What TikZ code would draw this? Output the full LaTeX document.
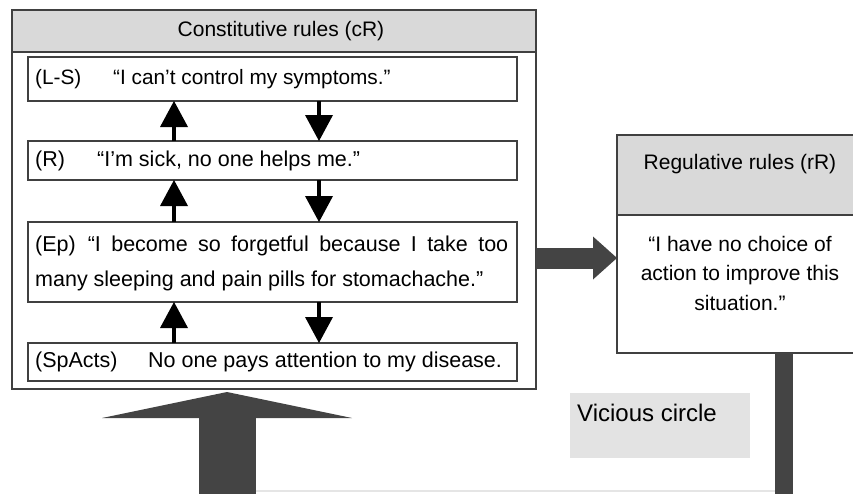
\documentclass[tikz,border=0pt]{standalone}
\usepackage{fontspec}
\setmainfont{Liberation Sans}
\usetikzlibrary{arrows.meta,calc}
\definecolor{hdr}{HTML}{D9D9D9}
\definecolor{dark}{HTML}{444444}
\definecolor{vc}{HTML}{E3E3E3}
\definecolor{edge}{HTML}{404040}
\begin{document}
\begin{tikzpicture}[x=1pt,y=-1pt,
  box/.style={draw=edge, line width=1.3pt, anchor=north west, inner sep=0pt, outer sep=0pt},
  txt/.style={font=\fontsize{21.5}{25}\selectfont, anchor=west, inner sep=0pt},
  smallarr/.style={line width=4pt, -{Triangle[width=28pt,length=26pt,line width=0pt]}},
  bigright/.style={dark, line width=21pt, -{Triangle[width=43pt,length=24pt,line width=0pt]}},
  bigup/.style={dark, line width=57pt, -{Triangle[width=250pt,length=26pt,line width=0pt]}},
  bar/.style={dark, line width=18pt}
]
\useasboundingbox (0,0) rectangle (853,493);
% constitutive rules
\node[box, minimum width=524pt, minimum height=379pt] (cR) at (12,10) {};
\node[box, fill=hdr, minimum width=524pt, minimum height=42pt] (cRh) at (12,10) {};
\node[font=\fontsize{21}{25}\selectfont, inner sep=0pt] (cRt) at ($(cRh.center)+(7,0)$) {Constitutive rules (cR)};
\node[box, fill=white, minimum width=489pt, minimum height=44pt] (LS) at (28,57) {};
\node[txt, font=\fontsize{20.8}{25}\selectfont] (LSt) at ($(LS.west)+(7,0)$) {\makebox[78pt][l]{(L-S)}“I can’t control my symptoms.”};
\node[box, fill=white, minimum width=489pt, minimum height=39pt] (R) at (28,141) {};
\node[txt] (Rt) at ($(R.west)+(7,0)$) {\makebox[62pt][l]{(R)}“I’m sick, no one helps me.”};
\node[box, fill=white, minimum width=489pt, minimum height=80pt] (Ep) at (28,222) {};
\node[txt] (Ept) at ($(Ep.west)+(7,1)$) {\parbox{473pt}{\fontsize{21.5}{35}\selectfont (Ep)\hspace{12pt}“I become so forgetful because I take too\linebreak many sleeping and pain pills for stomachache.”}};
\node[box, fill=white, minimum width=489pt, minimum height=38pt] (Sp) at (28,343) {};
\node[txt] (Spt) at ($(Sp.west)+(7,0)$) {\makebox[113pt][l]{(SpActs)}No one pays attention to my disease.};
% small arrows
\draw[smallarr] ([xshift=146pt]R.north west) -- ([xshift=146pt]LS.south west);
\draw[smallarr] ([xshift=291pt]LS.south west) -- ([xshift=291pt]R.north west);
\draw[smallarr] ([xshift=146pt]Ep.north west) -- ([xshift=146pt]R.south west);
\draw[smallarr] ([xshift=291pt]R.south west) -- ([xshift=291pt]Ep.north west);
\draw[smallarr] ([xshift=146pt]Sp.north west) -- ([xshift=146pt]Ep.south west);
\draw[smallarr] ([xshift=291pt]Ep.south west) -- ([xshift=291pt]Sp.north west);
% regulative rules
\node[box, fill=white, minimum width=246pt, minimum height=218pt] (rR) at (617,135) {};
\node[box, fill=hdr, minimum width=246pt, minimum height=80pt] (rRh) at (617,135) {};
\node[font=\fontsize{21}{25}\selectfont, inner sep=0pt] (rRt) at ($(rRh.north)+(0,29)$) {Regulative rules (rR)};
\node[font=\fontsize{21}{29.5}\selectfont, align=center, inner sep=0pt] (rRb) at ($(rRh.south)+(0,58)$) {“I have no choice of\\action to improve this\\situation.”};
% big arrows
\coordinate (ra) at ($(cR.north east)+(0,248)$);
\draw[bigright] (ra) -- (rR.west |- ra);
\coordinate (upbot) at (227,500);
\draw[bigup] (upbot) -- ([xshift=215pt,yshift=-3pt]cR.south west);
\coordinate (barbot) at (784,500);
\draw[bar] ([xshift=167pt]rR.south west) -- (barbot);
\coordinate (fl1) at (256,491);
\coordinate (fl2) at (775,491);
\draw[black!10, line width=1.5pt] (fl1) -- (fl2);
% vicious circle
\node[anchor=north west, fill=vc, minimum width=180pt, minimum height=65pt, inner sep=0pt] (vcb) at (570,393) {};
\node[anchor=west, font=\fontsize{24}{28}\selectfont, inner sep=0pt] (vct) at ($(vcb.north west)+(7,20)$) {Vicious circle};
\end{tikzpicture}
\end{document}
